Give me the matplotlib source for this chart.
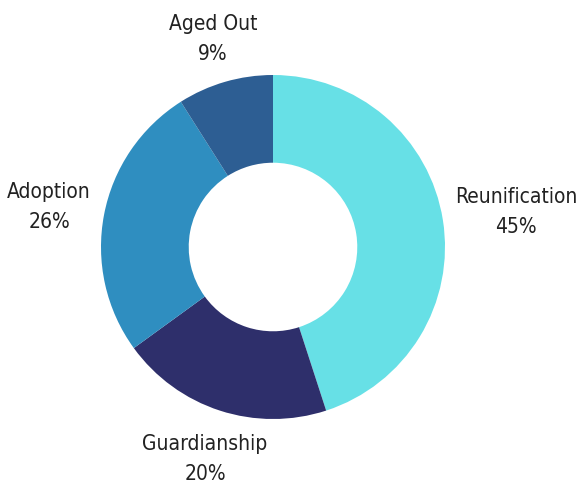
import matplotlib
matplotlib.use("Agg")
import matplotlib.pyplot as plt

categories = ["Reunification", "Guardianship", "Adoption", "Aged Out"]
values = [45, 20, 26, 9]
colors = ["#67E0E6", "#2E2F6B", "#2F8EC0", "#2D5E93"]

label_pos = {
    "Reunification": (516, 212),
    "Guardianship": (205, 459),
    "Adoption": (49, 207),
    "Aged Out": (213, 39),
}

W, H = 580, 491
fig = plt.figure(figsize=(W / 100, H / 100), dpi=100)
ax = fig.add_axes([0, 0, 1, 1])

cx, cy, r = 273, H - 247, 172
ax.pie(values, colors=colors, startangle=90, counterclock=False,
       center=(cx, cy), radius=r, frame=True,
       wedgeprops=dict(width=r * 0.51, linewidth=0))
ax.set_xlim(0, W)
ax.set_ylim(0, H)
ax.set_aspect("equal")
ax.axis("off")

for cat, v in zip(categories, values):
    x, y = label_pos[cat]
    ax.text(x, H - y, f"{cat}\n{v}%", ha="center", va="center",
            fontsize=15, color="#222222", family="DejaVu Sans",
            stretch="condensed", linespacing=1.6)

fig.savefig("out.png", dpi=100, facecolor="white")
